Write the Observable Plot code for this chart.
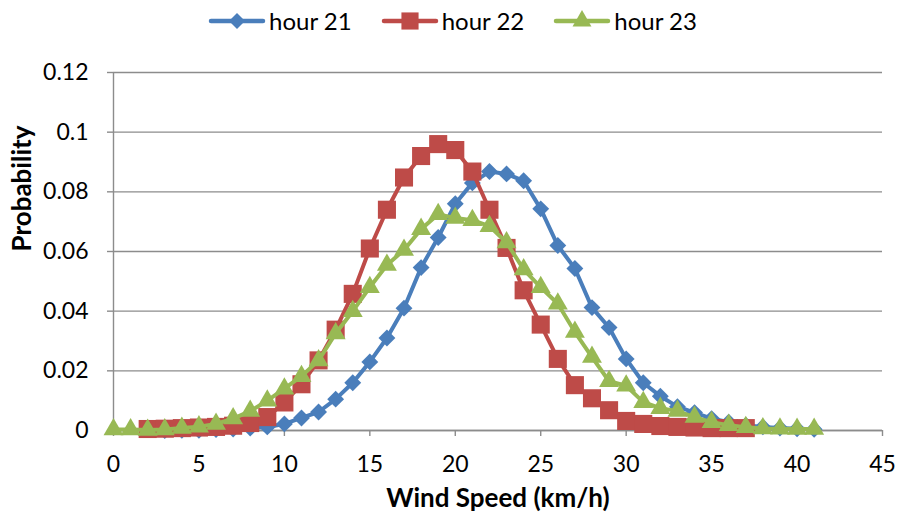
<!DOCTYPE html>
<html><head><meta charset="utf-8">
<script src="https://cdn.jsdelivr.net/npm/d3@7"></script>
<script src="https://cdn.jsdelivr.net/npm/@observablehq/plot@0.6"></script>
<style>
body{margin:0;background:#fff;font-family:Lato,sans-serif;}
#legend{height:40px;display:flex;justify-content:center;align-items:center;gap:29px;font-size:24px;color:#000;padding-left:5px;padding-top:1px;box-sizing:border-box;}
.item{display:flex;align-items:center;gap:3px;}
.item svg{display:block;}
</style></head><body>
<div id="legend"></div>
<div id="chart"></div>
<script>
const windSpeeds = [0,1,2,3,4,5,6,7,8,9,10,11,12,13,14,15,16,17,18,19,20,21,22,23,24,25,26,27,28,29,30,31,32,33,34,35,36,37,38,39,40,41];
const hour21 = [null,null,null,0.0000,0.0001,0.0001,0.0003,0.0005,0.0008,0.0012,0.0022,0.0042,0.0062,0.0105,0.0160,0.0230,0.0310,0.0410,0.0546,0.0647,0.0760,0.0830,0.0868,0.0860,0.0837,0.0743,0.0620,0.0543,0.0412,0.0345,0.0240,0.0160,0.0115,0.0080,0.0060,0.0040,0.0028,0.0018,0.0012,0.0008,0.0006,0.0004];
const hour22 = [null,null,0.0005,0.0006,0.0008,0.0010,0.0012,0.0016,0.0025,0.0045,0.0094,0.0155,0.0235,0.0338,0.0458,0.0610,0.0740,0.0848,0.0920,0.0960,0.0940,0.0868,0.0740,0.0612,0.0470,0.0355,0.0240,0.0152,0.0108,0.0068,0.0032,0.0022,0.0015,0.0012,0.0010,0.0008,0.0008,0.0008,null,null,null,null];
const hour23 = [0.0003,0.0003,0.0002,0.0003,0.0008,0.0013,0.0022,0.0040,0.0065,0.0100,0.0140,0.0182,0.0235,0.0325,0.0400,0.0480,0.0555,0.0605,0.0675,0.0725,0.0712,0.0705,0.0685,0.0630,0.0540,0.0480,0.0425,0.0330,0.0246,0.0165,0.0150,0.0095,0.0075,0.0065,0.0045,0.0028,0.0018,0.0011,0.0007,0.0006,0.0005,0.0005];
const seriesNames = ["hour 21","hour 22","hour 23"];
const seriesColors = ["#4a7ebb","#be4b48","#98b954"];
const seriesSymbols = ["diamond2","square","triangle"];
const seriesRadius = [7.6,10.2,7.4];
const xTicks = [0,5,10,15,20,25,30,35,40,45];
const xTickLabels = ["0","5","10","15","20","25","30","35","40","45"];
const yTicks = [0,0.02,0.04,0.06,0.08,0.1,0.12];
const yTickLabels = ["0","0.02","0.04","0.06","0.08","0.1","0.12"];
const xTitle = "Wind Speed (km/h)";
const yTitle = "Probability";

const seriesValues = [hour21, hour22, hour23];
const rows = seriesValues.map((vals) =>
  windSpeeds.map((x, i) => ({x, y: vals[i]})).filter(d => d.y !== null));

const xLab = new Map(xTicks.map((t,i)=>[t,xTickLabels[i]]));
const yLab = new Map(yTicks.map((t,i)=>[t,yTickLabels[i]]));
const gridColor = "#8c8c8c";

const seriesMarks = rows.flatMap((data, k) => [
  Plot.line(data, {x: "x", y: "y", stroke: seriesColors[k], strokeWidth: 4, strokeLinejoin: "round", strokeLinecap: "round"}),
  Plot.dot(data, {x: "x", y: "y", symbol: () => seriesSymbols[k], r: seriesRadius[k], fill: seriesColors[k], stroke: "none"})
]);

const chart = Plot.plot({
  width: 900, height: 483,
  marginLeft: 113, marginRight: 18, marginTop: 32, marginBottom: 93,
  style: {fontFamily: "Lato, sans-serif", fontSize: "23px", color: "#000", background: "#fff", overflow: "visible"},
  x: {domain: [0,45]},
  y: {domain: [0,0.12]},
  symbol: {domain: seriesSymbols, range: seriesSymbols},
  marks: [
    Plot.gridY(yTicks, {stroke: gridColor, strokeOpacity: 1, strokeWidth: 1.4}),
    Plot.ruleX([0], {stroke: gridColor, strokeWidth: 1.4}),
    Plot.ruleY([0], {stroke: gridColor, strokeWidth: 1.4}),
    Plot.axisY(yTicks, {tickSize: 6, tickPadding: 19, stroke: gridColor, strokeWidth: 1.4, fill: "#000", label: null, tickFormat: d => yLab.get(d), fontSize: 23}),
    Plot.axisX(xTicks, {tickSize: 6, tickPadding: 19, stroke: gridColor, strokeWidth: 1.4, fill: "#000", label: null, tickFormat: d => xLab.get(d), fontSize: 23}),
    ...seriesMarks,
    Plot.text([xTitle], {frameAnchor: "bottom", dy: 76, fontWeight: "bold", fontSize: 26, fill: "#000"}),
    Plot.text([yTitle], {frameAnchor: "left", dx: -91, rotate: -90, fontWeight: "bold", fontSize: 26, fill: "#000"})
  ]
});
document.getElementById("chart").appendChild(chart);

// legend
const legend = d3.select("#legend");
const symTypes = {diamond2: d3.symbolDiamond2, square: d3.symbolSquare, triangle: d3.symbolTriangle};
seriesNames.forEach((name, k) => {
  const item = legend.append("div").attr("class", "item");
  const svg = item.append("svg").attr("width", 58).attr("height", 24);
  svg.append("line").attr("x1", 3).attr("x2", 55).attr("y1", 12).attr("y2", 12)
    .attr("stroke", seriesColors[k]).attr("stroke-width", 4.5).attr("stroke-linecap", "round");
  svg.append("path").attr("transform", "translate(29,12)")
    .attr("d", d3.symbol(symTypes[seriesSymbols[k]], Math.PI * seriesRadius[k] ** 2 * 0.9)())
    .attr("fill", seriesColors[k]);
  item.append("span").text(name);
});
</script>
</body></html>
